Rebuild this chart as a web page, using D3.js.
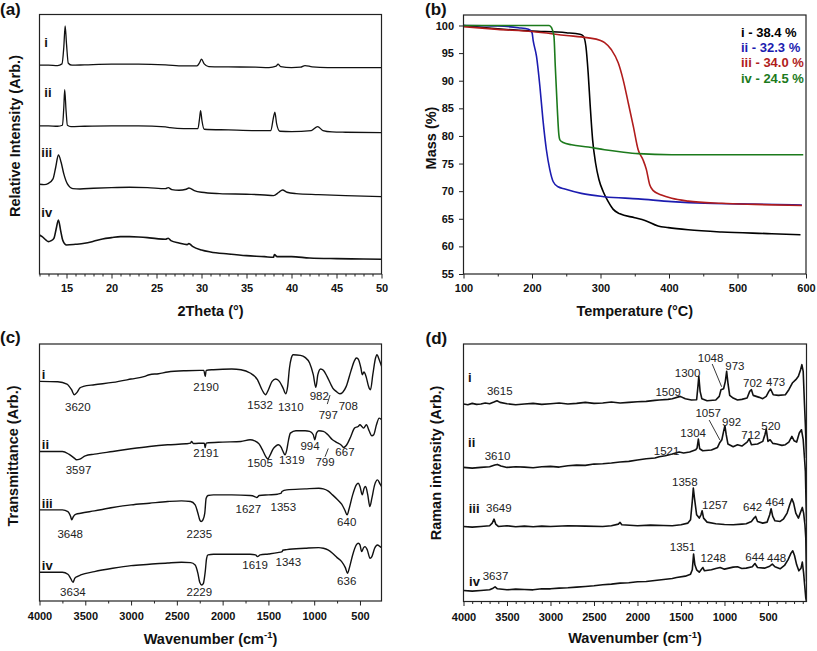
<!DOCTYPE html>
<html><head><meta charset="utf-8">
<script src="https://cdn.jsdelivr.net/npm/d3@7"></script>
<style>html,body{margin:0;padding:0;background:#fff;} svg{display:block;}</style>
</head><body><svg id="chart" width="817" height="651"></svg>
<script>
// ---------------- DATA ----------------
// (a) XRD, 2Theta (deg) vs relative intensity (arb., offset)
const xrdI = [[12,626],[13,626],[14,625],[14.5,630],[14.7,680],[14.85,744],[15.0,690],[15.2,632],[15.6,626],[17,627],[20,629],[23,629],[26,627],[28,624],[29.5,624],[29.8,634],[30.0,644],[30.3,630],[30.8,622],[33,621],[36,620],[37.5,619],[38.3,623],[38.5,629],[38.8,622],[40,619],[41,620],[41.5,625],[42.3,621],[44,619],[47,619],[50,619]];
const xrdII = [[12,444],[13,444],[14,443],[14.55,446],[14.7,500],[14.8,553],[14.95,490],[15.1,446],[15.5,442],[17,443],[20,444],[23,444],[26,441],[26.5,439],[28,436],[29.6,436],[29.8,470],[29.9,490],[30.05,460],[30.3,434],[33,432],[36,430],[37.7,430],[38.0,470],[38.15,485],[38.35,450],[38.7,428],[40,427],[42.2,430],[42.9,442],[43.5,430],[44.5,426],[46,425],[50,424]];
const xrdIII = [[12,269],[12.5,268],[13,272],[13.5,285],[13.8,320],[14.1,357],[14.4,335],[14.7,300],[15.1,270],[15.7,256],[16.5,255],[18,257],[20,259],[22,260],[24,259],[26,256],[26.3,259],[26.7,253],[27.5,251],[28.3,254],[28.6,258],[29.2,250],[30,245],[32,241],[35,239],[37,237],[38,235],[38.6,245],[39.0,252],[39.5,245],[40.5,241],[43,238],[46,235],[50,232]];
const xrdIV = [[12,117],[12.3,112],[12.7,102],[13,97],[13.3,100],[13.6,107],[13.85,135],[14.1,162],[14.35,130],[14.6,100],[15,87],[16,89],[17,92],[18,98],[19,105],[20,109],[21,112],[22,112],[23,111],[24,109],[25,106],[26,104],[26.3,107],[26.6,100],[27.5,93],[28.4,88],[28.6,91],[29,83],[30,72],[31,66],[33,60],[35,55],[37,52],[38,50],[38.1,58],[38.4,52],[40,52],[42,48],[45,46],[48,45],[50,44]];
const xrdNames = ["i","ii","iii","iv"];
const xrdNamePos = [[12.53,680],[12.53,532],[12.2,350],[12.2,170]];
const xrdTicks = [15,20,25,30,35,40,45,50];

// (b) TGA, temperature (degC) vs mass (%)
const tgaI = [[100,100],[150,99.4],[200,99.0],[250,98.7],[270,98.4],[274.8,98.1],[278.7,96.2],[282,91.4],[285,85.4],[288.5,79.3],[292.8,75.1],[297.7,72.1],[304,69.9],[311.3,68.1],[318.6,66.7],[328.3,65.9],[350,65.2],[364.9,64.7],[384,63.7],[399,63.4],[428,63.0],[477,62.6],[550,62.3],[592,62.1]];
const tgaII = [[100,100],[150,99.9],[180,99.6],[195,99.3],[200,98.7],[201.8,97.2],[206.6,94.4],[211.5,89.0],[216,82.9],[221,77.5],[226,73.9],[231,71.7],[238,70.8],[248,70.4],[272,69.6],[306,69.0],[355,68.6],[404,68.1],[452,67.8],[501,67.7],[594,67.5]];
const tgaIII = [[100,99.8],[150,99.3],[200,98.9],[250,98.2],[280,97.8],[300,97.3],[306,96.9],[316,95.6],[326,93.2],[333,90.2],[340.5,86.0],[348,81.7],[355,77.5],[362,75.7],[367,73.9],[372,71.1],[377,70.1],[389,69.3],[404,68.7],[428,68.2],[477,67.8],[525,67.6],[594,67.4]];
const tgaIV = [[100,100],[200,100.0],[225,100.0],[228.5,99.6],[232,98.1],[234,92.6],[237,84.8],[239,80.5],[240.7,79.3],[245.6,78.8],[257.7,78.4],[282,78.0],[306,77.5],[331,77.1],[355,76.8],[404,76.6],[596,76.6]];
const tgaLegend = ["i - 38.4 %","ii - 32.3 %","iii - 34.0 %","iv - 24.5 %"];
const tgaXTicks = [100,200,300,400,500,600];
const tgaYTicks = [55,60,65,70,75,80,85,90,95,100];

// (c) FTIR, wavenumber (cm-1) vs transmittance (arb., offset)
const ftirI = [[4000,658],[3800,657],[3700,650],[3650,633],[3620,618],[3590,625],[3560,638],[3520,643],[3400,648],[3200,655],[3000,665],[2850,673],[2800,678],[2700,681],[2600,686],[2400,690],[2250,691],[2205,691],[2190,673],[2180,691],[2100,693],[1900,695],[1800,693],[1700,683],[1620,663],[1570,633],[1532,618],[1500,633],[1460,658],[1420,665],[1380,658],[1340,638],[1310,621],[1290,643],[1270,698],[1250,728],[1230,738],[1150,736],[1100,730],[1050,713],[1010,678],[982,640],[960,678],[930,695],[900,691],[860,673],[820,650],[797,638],[760,628],[720,621],[690,625],[650,643],[600,688],[560,720],[540,728],[520,725],[490,698],[475,678],[457,686],[440,678],[400,638],[385,633],[360,678],[330,728],[315,738],[290,723],[264,703]];
const ftirII = [[4000,448],[3750,448],[3680,440],[3620,428],[3597,423],[3560,425],[3500,435],[3400,440],[3200,448],[3000,456],[2800,463],[2600,468],[2400,471],[2350,473],[2340,478],[2320,472],[2200,473],[2191,460],[2180,473],[2000,476],[1800,478],[1700,483],[1650,480],[1600,470],[1560,450],[1530,433],[1505,426],[1480,438],[1450,455],[1420,464],[1390,468],[1360,460],[1340,448],[1319,438],[1300,452],[1280,483],[1260,503],[1200,510],[1100,510],[1050,508],[1010,498],[994,483],[975,503],[950,510],[900,508],[850,498],[800,483],[760,476],[700,466],[680,460],[650,466],[600,493],[560,518],[520,523],[500,528],[480,523],[460,518],[430,528],[400,510],[370,495],[350,498],[320,528],[290,548],[264,543]];
const ftirIII = [[4000,273],[3750,273],[3690,268],[3660,253],[3648,243],[3630,253],[3600,260],[3550,263],[3400,270],[3200,280],[3000,288],[2800,293],[2600,298],[2450,300],[2350,298],[2300,288],[2270,263],[2250,243],[2235,238],[2215,243],[2195,263],[2180,308],[2160,316],[2100,318],[1900,318],[1700,316],[1650,313],[1627,310],[1600,316],[1500,318],[1400,320],[1360,323],[1353,328],[1300,333],[1100,336],[950,338],[900,336],[850,330],[800,318],[750,305],[700,290],[665,272],[640,258],[620,275],[580,318],[540,348],[519,353],[500,343],[475,318],[455,338],[439,343],[415,318],[392,283],[370,308],[340,348],[308,363],[280,350],[264,343]];
const ftirIV = [[4000,86],[3750,86],[3690,80],[3660,68],[3634,56],[3615,68],[3590,73],[3550,78],[3400,88],[3200,98],[3000,106],[2800,110],[2600,114],[2450,116],[2350,115],[2300,108],[2270,83],[2250,56],[2229,48],[2210,53],[2190,88],[2175,128],[2160,138],[2100,140],[1900,140],[1700,140],[1640,138],[1619,133],[1590,138],[1500,141],[1400,145],[1350,148],[1343,152],[1300,154],[1100,158],[950,160],[900,158],[850,153],[800,143],[750,130],[700,118],[660,100],[636,83],[615,100],[580,138],[540,168],[519,173],[500,168],[482,148],[460,160],[445,163],[420,153],[390,128],[370,133],[340,158],[310,168],[280,163],[264,160]];
const ftirNamePos = [[3975,664],[3975,456],[3975,280],[3975,93]];
const ftirPeakLabels = [["3620",3581,569],["2190",2181,629],["1532",1591,574],["1310",1256,569],["982",944,602],["797",846,546],["708",628,571],
  ["3597",3574,380],["2191",2181,430],["1505",1591,400],["1319",1245,410],["994",1046,452],["799",882,403],["667",664,433],
  ["3648",3665,190],["2235",2254,190],["1627",1719,265],["1353",1337,270],["640",645,225],
  ["3634",3635,15],["2229",2254,15],["1619",1646,97],["1343",1282,105],["636",645,47]];
const ftirLeaders = [[[827,617],[857,590]],[[846,457],[882,432]]];
const wnTicks = [4000,3500,3000,2500,2000,1500,1000,500];

// (d) Raman, wavenumber (cm-1) vs Raman intensity (arb., offset)
const ramanI = [[4000,592],[3950,590],[3900,594],[3850,591],[3800,592],[3750,595],[3700,593],[3650,598],[3615,602],[3580,597],[3500,593],[3400,590],[3300,592],[3200,594],[3100,591],[3000,593],[2900,595],[2800,592],[2700,594],[2600,597],[2500,594],[2400,595],[2300,598],[2200,595],[2100,597],[2000,599],[1900,600],[1800,603],[1750,604],[1650,606],[1600,608],[1509,615],[1450,608],[1380,604],[1320,605],[1305,645],[1295,675],[1280,630],[1260,608],[1200,602],[1100,604],[1060,615],[1040,635],[1010,638],[990,660],[975,690],[960,655],[940,618],[900,610],[850,604],[800,606],[740,610],[710,630],[690,635],[670,618],[600,612],[560,608],[520,615],[490,630],[470,637],[440,620],[380,618],[300,620],[260,635],[220,655],[180,665],[150,675],[125,695],[110,710],[95,690],[80,590],[70,530],[57,430]];
const ramanII = [[4000,402],[3900,400],[3800,402],[3700,404],[3640,409],[3610,411],[3570,406],[3500,402],[3400,404],[3300,403],[3200,401],[3100,404],[3000,405],[2900,403],[2800,407],[2700,409],[2600,408],[2500,412],[2400,413],[2300,415],[2200,418],[2100,420],[2000,424],[1900,428],[1800,430],[1750,434],[1680,437],[1600,442],[1521,448],[1470,445],[1400,448],[1330,455],[1315,460],[1300,487],[1285,458],[1250,452],[1150,454],[1080,462],[1057,475],[1030,485],[1010,510],[995,527],[980,500],[960,472],[900,464],[850,470],[800,466],[740,478],[715,488],[690,470],[620,472],[560,480],[535,500],[520,517],[500,480],[475,485],[445,474],[400,472],[340,468],[300,470],[260,478],[225,495],[200,482],[170,478],[140,505],[115,515],[95,485],[80,430],[70,390],[57,240]];
const ramanIII = [[4000,225],[3900,223],[3800,225],[3700,227],[3670,235],[3649,247],[3630,232],[3600,225],[3500,227],[3400,224],[3300,226],[3200,224],[3100,226],[3000,225],[2800,227],[2600,226],[2400,225],[2300,227],[2220,232],[2200,237],[2180,230],[2000,227],[1850,229],[1700,228],[1600,227],[1500,230],[1420,235],[1390,245],[1370,300],[1358,340],[1345,310],[1320,260],[1290,250],[1270,260],[1257,272],[1240,250],[1200,238],[1100,233],[1000,231],[900,230],[800,232],[750,233],[690,240],[660,250],[642,255],[620,240],[560,235],[510,238],[480,260],[464,278],[445,255],[420,242],[360,240],[320,248],[280,265],[250,290],[225,308],[205,295],[180,265],[150,250],[125,268],[105,282],[90,265],[75,230],[65,190],[57,60]];
const ramanIV = [[4000,33],[3900,31],[3800,33],[3700,35],[3660,40],[3637,44],[3610,38],[3500,35],[3400,37],[3300,36],[3200,35],[3100,38],[3000,38],[2900,40],[2800,41],[2700,43],[2600,45],[2500,47],[2400,50],[2300,52],[2200,55],[2100,56],[2000,59],[1900,60],[1800,63],[1700,66],[1600,69],[1550,72],[1450,76],[1390,82],[1370,95],[1355,142],[1340,110],[1320,95],[1290,88],[1260,98],[1248,102],[1230,92],[1150,95],[1100,99],[1050,102],[1000,97],[950,100],[900,103],[850,104],[800,99],[750,100],[680,104],[650,114],[620,102],[540,100],[480,106],[450,112],[420,104],[360,98],[310,108],[270,125],[235,145],[215,152],[195,138],[170,110],[145,92],[120,100],[105,118],[90,85],[75,40],[65,10],[57,0]];
const ramanNamePos = [[3947,659],[3947,463],[3940,265],[3936,47]];
const ramanPeakLabels = [["3615",3583,619],["1509",1647,616],["1300",1424,673],["1048",1159,719],["973",880,694],["702",676,642],["473",412,646],
  ["3610",3609,424],["1521",1665,439],["1304",1360,492],["1057",1187,552],["992",918,525],["712",696,487],["520",466,514],
  ["3649",3594,267],["1358",1455,346],["1257",1110,277],["642",676,270],["464",420,286],
  ["3637",3632,64],["1351",1481,151],["1248",1129,117],["644",650,120],["448",400,117]];
const ramanLeaders = [[[1141,712],[1033,644]],[[1176,544],[1052,484]]];

// ---------------- DRAWING ----------------
const FONT = "'Liberation Sans', Arial, Helvetica, sans-serif";
const svg = d3.select("#chart");
svg.append("rect").attr("width",817).attr("height",651).attr("fill","#fff");

function panel(cfg){
  const g = svg.append("g");
  const x = d3.scaleLinear().domain(cfg.xDomain).range([cfg.x0, cfg.x1]);
  const y = d3.scaleLinear().domain(cfg.yDomain).range([cfg.y1, cfg.y0]);
  const clipId = "clip-" + cfg.id;
  svg.append("clipPath").attr("id", clipId).append("rect")
    .attr("x", cfg.x0).attr("y", cfg.y0).attr("width", cfg.x1 - cfg.x0).attr("height", cfg.y1 - cfg.y0);

  const styleAxis = s => {
    s.select(".domain").remove();
    s.selectAll("line").attr("stroke", "#222").attr("stroke-width", 1);
    s.selectAll("text").attr("font-family", FONT).attr("font-size", 11).attr("font-weight", "bold").attr("fill", "#111");
  };
  const fmt = d3.format("d");
  g.append("g").attr("transform", `translate(0,${cfg.y1})`)
    .call(d3.axisBottom(x).tickValues(cfg.xMinor).tickSize(2.5).tickFormat("").tickSizeOuter(0)).call(styleAxis);
  g.append("g").attr("transform", `translate(0,${cfg.y1})`)
    .call(d3.axisBottom(x).tickValues(cfg.xMajor).tickFormat(fmt).tickSize(4.5).tickPadding(cfg.xPad).tickSizeOuter(0)).call(styleAxis);
  if (cfg.yMajor) {
    g.append("g").attr("transform", `translate(${cfg.x0},0)`)
      .call(d3.axisLeft(y).tickValues(cfg.yMajor).tickFormat(fmt).tickSize(4.5).tickPadding(5).tickSizeOuter(0)).call(styleAxis);
  }

  const line = d3.line().x(d => x(d[0])).y(d => y(d[1])).curve(cfg.curve || d3.curveLinear);
  const cg = g.append("g").attr("clip-path", `url(#${clipId})`);
  cfg.series.forEach((s, i) => {
    cg.append("path").datum(s).attr("d", line).attr("fill", "none")
      .attr("stroke", cfg.colors ? cfg.colors[i] : "#111")
      .attr("stroke-width", cfg.widths ? cfg.widths[i] : 1.3)
      .attr("stroke-linejoin", "round");
  });

  g.append("rect").attr("x", cfg.x0).attr("y", cfg.y0).attr("width", cfg.x1 - cfg.x0).attr("height", cfg.y1 - cfg.y0)
    .attr("fill", "none").attr("stroke", "#222").attr("stroke-width", 1.2);

  if (cfg.names) {
    cfg.names.forEach((n, i) => {
      g.append("text").attr("x", x(cfg.namePos[i][0])).attr("y", y(cfg.namePos[i][1]))
        .attr("font-family", FONT).attr("font-size", 13).attr("font-weight", "bold").attr("fill", "#111").text(n);
    });
  }
  if (cfg.peaks) {
    cfg.peaks.forEach(p => {
      g.append("text").attr("x", x(p[1])).attr("y", y(p[2])).attr("text-anchor", "middle")
        .attr("font-family", FONT).attr("font-size", 11.5).attr("fill", "#222").text(p[0]);
    });
  }
  if (cfg.leaders) {
    cfg.leaders.forEach(l => {
      g.append("line").attr("x1", x(l[0][0])).attr("y1", y(l[0][1])).attr("x2", x(l[1][0])).attr("y2", y(l[1][1]))
        .attr("stroke", "#222").attr("stroke-width", 0.9);
    });
  }
  const xt = g.append("text").attr("x", (cfg.x0 + cfg.x1) / 2).attr("y", cfg.xTitleY).attr("text-anchor", "middle")
    .attr("font-family", FONT).attr("font-size", 14.5).attr("font-weight", "bold").attr("fill", "#111");
  if (cfg.wavenumber) {
    xt.append("tspan").text("Wavenumber (cm");
    xt.append("tspan").attr("font-size", 9.5).attr("dy", -5.5).text("-1");
    xt.append("tspan").attr("dy", 5.5).text(")");
  } else {
    xt.text(cfg.xTitle);
  }
  g.append("text").attr("transform", `translate(${cfg.yTitleX},${cfg.yTitleY}) rotate(-90)`).attr("text-anchor", "middle")
    .attr("font-family", FONT).attr("font-size", 14.5).attr("font-weight", "bold").attr("fill", "#111").text(cfg.yTitle);
  g.append("text").attr("x", cfg.letterX).attr("y", cfg.letterY)
    .attr("font-family", FONT).attr("font-size", 17).attr("font-weight", "bold").attr("fill", "#111").text(cfg.letter);
  return {x, y, g};
}

const range = (a, b, s) => d3.range(a, b + s / 2, s);

// (a)
panel({
  id: "a", x0: 39.5, x1: 381.5, y0: 14.5, y1: 274,
  xDomain: [12, 50], yDomain: [0, 778],
  xMajor: xrdTicks, xMinor: range(12, 50, 1).filter(v => !xrdTicks.includes(v)), xPad: 6,
  series: [xrdI, xrdII, xrdIII, xrdIV], widths: [1.3, 1.3, 1.4, 1.6], curve: d3.curveMonotoneX,
  names: xrdNames, namePos: xrdNamePos,
  xTitle: "2Theta (°)", xTitleY: 316,
  yTitle: "Relative Intensity (Arb.)", yTitleX: 19.5, yTitleY: 136,
  letter: "(a)", letterX: 0, letterY: 15
});

// (b)
const tgaColors = ["#000000", "#1c1cb0", "#b01c1c", "#1c7a1c"];
const pb = panel({
  id: "b", x0: 463.5, x1: 806, y0: 15, y1: 274,
  xDomain: [100, 600], yDomain: [55, 101.9],
  xMajor: tgaXTicks, xMinor: range(150, 550, 100), xPad: 6, yMajor: tgaYTicks,
  series: [tgaI, tgaII, tgaIII, tgaIV], colors: tgaColors, widths: [1.6, 1.6, 1.6, 1.6], curve: d3.curveMonotoneX,
  xTitle: "Temperature (°C)", xTitleY: 315.5,
  yTitle: "Mass (%)", yTitleX: 435.5, yTitleY: 138,
  letter: "(b)", letterX: 425, letterY: 15
});
tgaLegend.forEach((t, i) => {
  pb.g.append("text").attr("x", 741).attr("y", 36.5 + i * 15.4)
    .attr("font-family", FONT).attr("font-size", 13).attr("font-weight", "bold").attr("fill", tgaColors[i]).text(t);
});

// (c)
panel({
  id: "c", x0: 39.5, x1: 381.5, y0: 344, y1: 601,
  xDomain: [4000, 265], yDomain: [0, 770],
  xMajor: wnTicks, xMinor: range(750, 3750, 500), xPad: 7,
  series: [ftirI, ftirII, ftirIII, ftirIV], widths: [1.4, 1.4, 1.4, 1.4], curve: d3.curveMonotoneX,
  names: xrdNames, namePos: ftirNamePos, peaks: ftirPeakLabels, leaders: ftirLeaders,
  wavenumber: true, xTitleY: 643.5,
  yTitle: "Transmittance (Arb.)", yTitleX: 18, yTitleY: 456,
  letter: "(c)", letterX: 0, letterY: 343
});

// (d)
panel({
  id: "d", x0: 463.5, x1: 806.5, y0: 344, y1: 601.5,
  xDomain: [4000, 57], yDomain: [0, 772],
  xMajor: wnTicks, xMinor: range(100, 3900, 100).filter(v => v % 500 !== 0), xPad: 7,
  series: [ramanI, ramanII, ramanIII, ramanIV], widths: [1.6, 1.6, 1.6, 1.6],
  names: xrdNames, namePos: ramanNamePos, peaks: ramanPeakLabels, leaders: ramanLeaders,
  wavenumber: true, xTitleY: 643,
  yTitle: "Raman intensity (Arb.)", yTitleX: 441, yTitleY: 463,
  letter: "(d)", letterX: 425.5, letterY: 344
});
</script></body></html>
